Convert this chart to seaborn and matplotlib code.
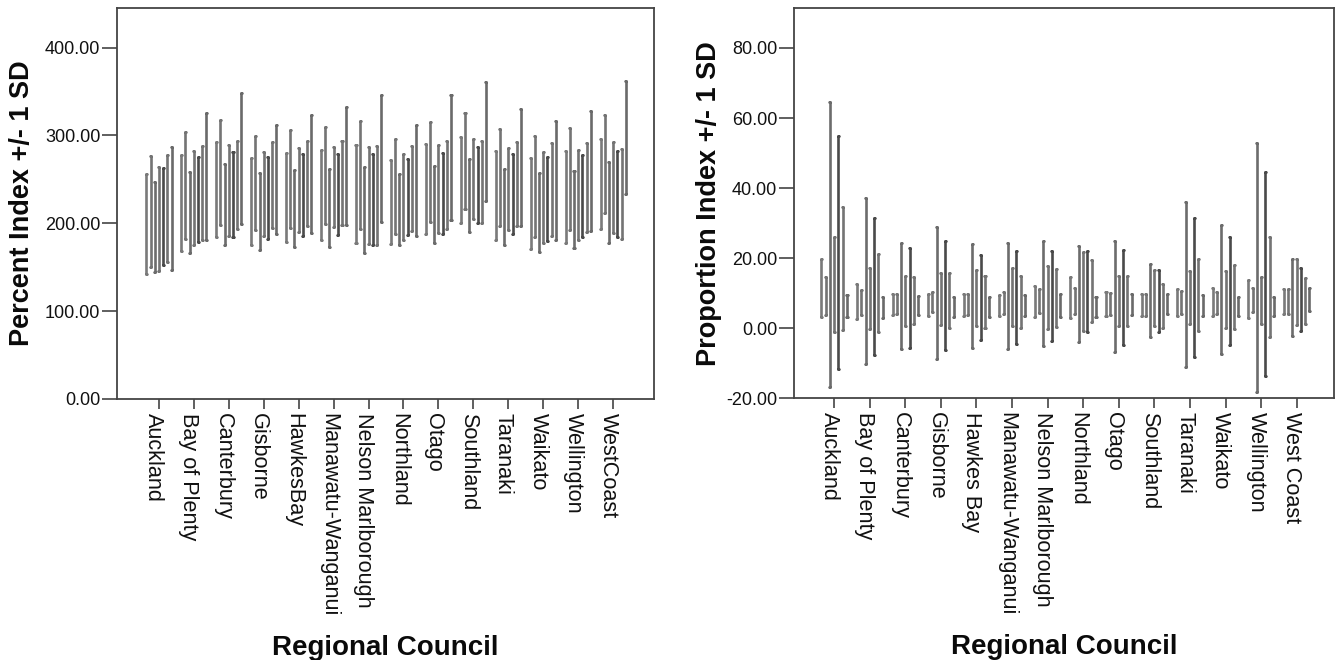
import matplotlib
matplotlib.use("Agg")
import matplotlib.pyplot as plt
import matplotlib.transforms as mtrans
import pandas as pd
import seaborn as sns

# =============================================================================
# data: low / high end of each mean +/- 1 SD bar
# =============================================================================
years = ["1", "2", "3", "4", "5", "6", "7"]

pct_regions = ["Auckland", "Bay of Plenty", "Canterbury", "Gisborne", "HawkesBay",
               "Manawatu-Wanganui", "Nelson Marlborough", "Northland", "Otago",
               "Southland", "Taranaki", "Waikato", "Wellington", "WestCoast"]

pct_lo = [[142.4, 150.3, 145.0, 146.2, 153.0, 155.6, 147.3],
          [168.8, 182.0, 166.2, 175.2, 178.2, 181.3, 180.5],
          [183.9, 198.3, 175.6, 185.8, 183.9, 193.4, 199.1],
          [175.6, 192.6, 169.2, 185.1, 182.4, 194.5, 187.7],
          [178.7, 194.5, 172.6, 189.6, 185.8, 196.4, 188.9],
          [181.3, 199.4, 173.0, 195.2, 187.0, 198.3, 198.3],
          [177.9, 193.8, 166.2, 176.4, 175.6, 175.6, 201.4],
          [176.4, 187.7, 174.8, 181.3, 186.2, 190.7, 185.8],
          [187.7, 201.4, 177.6, 188.9, 187.7, 193.4, 204.0],
          [200.2, 216.1, 190.0, 204.8, 200.2, 200.2, 225.5],
          [181.3, 197.2, 174.8, 191.8, 187.7, 196.4, 197.2],
          [170.7, 184.3, 167.7, 177.6, 179.4, 185.1, 181.3],
          [177.6, 192.6, 171.9, 181.3, 183.9, 189.6, 190.7],
          [193.4, 211.5, 177.6, 188.9, 183.9, 182.4, 233.1]]

pct_hi = [[255.7, 276.9, 246.7, 264.4, 263.3, 277.6, 287.1],
          [278.0, 304.4, 258.4, 282.2, 275.7, 287.8, 326.0],
          [292.7, 317.3, 267.4, 288.9, 280.7, 293.8, 348.2],
          [274.6, 299.5, 256.9, 281.4, 275.7, 292.7, 311.6],
          [279.5, 306.0, 260.6, 285.2, 278.4, 293.8, 323.7],
          [283.3, 309.7, 261.8, 287.1, 278.8, 293.8, 332.0],
          [289.3, 316.1, 264.4, 287.1, 278.8, 287.8, 346.4],
          [271.9, 295.4, 256.1, 278.4, 273.1, 287.8, 311.6],
          [290.1, 315.0, 265.5, 289.3, 279.5, 293.5, 345.6],
          [298.4, 326.0, 272.7, 295.8, 286.3, 293.8, 360.3],
          [282.2, 307.8, 261.8, 285.2, 278.4, 292.4, 330.5],
          [274.6, 299.2, 257.6, 280.7, 275.7, 290.9, 316.1],
          [282.2, 308.2, 259.8, 283.3, 277.6, 290.9, 327.8],
          [295.4, 323.7, 269.3, 292.7, 282.2, 284.1, 361.8]]

prop_regions = ["Auckland", "Bay of Plenty", "Canterbury", "Gisborne", "Hawkes Bay",
                "Manawatu-Wanganui", "Nelson Marlborough", "Northland", "Otago",
                "Southland", "Taranaki", "Waikato", "Wellington", "West Coast"]

prop_lo = [[3.2, 3.7, -16.7, -1.0, -11.5, -0.5, 3.3],
           [2.6, 3.7, -10.3, -0.1, -7.7, -1.0, 3.0],
           [3.7, 4.0, -6.0, 0.7, -5.7, 1.1, 3.7],
           [3.5, 4.5, -8.9, 0.9, -6.3, 0.2, 3.2],
           [3.5, 3.7, -5.6, 0.7, -3.4, 0.2, 3.2],
           [3.5, 4.0, -5.8, 0.7, -4.6, 0.2, 3.5],
           [3.2, 4.3, -5.0, -0.1, -3.6, 0.4, 3.2],
           [2.8, 4.0, -3.9, -0.8, -1.2, 1.8, 3.3],
           [3.5, 3.7, -6.7, 0.7, -4.8, 0.7, 3.7],
           [3.5, 3.5, -2.5, 0.7, -1.2, 0.2, 4.0],
           [3.5, 4.0, -11.0, 1.1, -8.2, -0.8, 3.5],
           [3.5, 4.0, -7.4, 0.2, -4.9, -0.1, 3.5],
           [2.8, 4.5, -18.1, 1.1, -13.6, -2.5, 3.5],
           [4.0, 4.0, -2.2, 0.9, -0.8, 1.1, 4.8]]

prop_hi = [[19.7, 14.5, 64.5, 25.9, 54.8, 34.7, 9.5],
           [12.6, 10.9, 37.3, 17.3, 31.6, 21.3, 9.0],
           [9.9, 9.9, 24.2, 15.0, 22.9, 14.5, 9.2],
           [9.9, 10.2, 29.0, 15.9, 24.9, 15.9, 9.0],
           [9.9, 9.9, 24.0, 16.6, 20.9, 15.0, 9.0],
           [9.6, 10.2, 24.2, 17.3, 22.1, 15.0, 9.5],
           [12.1, 11.1, 24.9, 17.8, 22.1, 16.9, 9.9],
           [14.5, 11.4, 23.5, 21.8, 22.1, 19.4, 8.9],
           [10.2, 10.0, 24.8, 15.0, 22.4, 15.0, 9.7],
           [9.7, 9.7, 18.3, 16.6, 16.6, 12.6, 9.7],
           [11.3, 10.5, 35.9, 16.4, 31.6, 19.7, 9.5],
           [11.6, 10.2, 29.5, 16.4, 25.9, 18.1, 8.8],
           [13.8, 11.6, 53.0, 14.5, 44.7, 26.1, 9.0],
           [11.1, 11.1, 19.7, 19.7, 17.3, 14.2, 11.6]]

bar_colors = ["#7a7a7a", "#747474", "#6c6c6c", "#747474", "#4a4a4a", "#747474", "#6a6a6a"]


def long_table(regions, lo, hi):
    # two rows per bar -> min/max interval gives the bar ends
    rows = []
    for r, lrow, hrow in zip(regions, lo, hi):
        for y, l, h in zip(years, lrow, hrow):
            rows.append((r, y, l))
            rows.append((r, y, h))
    return pd.DataFrame(rows, columns=["region", "year", "value"])


sns.set_style("ticks")
plt.rcParams["font.family"] = ["Liberation Sans", "DejaVu Sans"]

fig = plt.figure(figsize=(13.38, 6.6), dpi=100)
ax1 = fig.add_axes([117 / 1338, 1 - 399 / 660, 537 / 1338, 391 / 660])
ax2 = fig.add_axes([794 / 1338, 1 - 398.3 / 660, 540 / 1338, 390.3 / 660])


def draw(ax, regions, lo, hi, ylim, yticks, xlim, ylabel, ylab_x):
    df = long_table(regions, lo, hi)
    sns.pointplot(data=df, x="region", y="value", hue="year", order=regions,
                  hue_order=years, errorbar=("pi", 100), dodge=0.72,
                  markers="", linestyle="none", palette=bar_colors,
                  capsize=0.03, err_kws={"linewidth": 1.9}, legend=False, ax=ax)
    ax.set_xlim(*xlim)
    ax.set_ylim(*ylim)
    ax.set_yticks(yticks)
    ax.set_yticklabels(["%.2f" % v for v in yticks])
    ax.set_xticks(range(len(regions)))
    ax.set_xticklabels(regions, rotation=-90, ha="center", va="top")
    ax.tick_params(axis="x", direction="out", bottom=True, length=7, width=1.2,
                   color="#444444", pad=3, labelsize=15.6, labelcolor="#111111")
    ax.tick_params(axis="y", direction="out", left=True, length=11, width=1.2,
                   color="#444444", pad=1, labelsize=13, labelcolor="#111111")
    off = mtrans.ScaledTranslation(-5 / 100, 0, fig.dpi_scale_trans)
    for lab in ax.get_xticklabels():
        lab.set_transform(lab.get_transform() + off)
    for sp in ax.spines.values():
        sp.set_visible(True)
        sp.set_color("#444444")
        sp.set_linewidth(1.3)
    ax.set_xlabel("Regional Council", fontsize=20, fontweight="bold",
                  va="center", color="#0a0a0a")
    ax.xaxis.set_label_coords(0.5, -0.638)
    ax.set_ylabel(ylabel, fontsize=19.5, fontweight="bold", va="center", color="#0a0a0a")
    ax.yaxis.set_label_coords(ylab_x, 0.5)


draw(ax1, pct_regions, pct_lo, pct_hi, (0, 445), [0, 100, 200, 300, 400],
     (-1.2, 14.17), "Percent Index +/- 1 SD", -0.1775)
draw(ax2, prop_regions, prop_lo, prop_hi, (-20, 91.4), [-20, 0, 20, 40, 60, 80],
     (-1.13, 14.05), "Proportion Index +/- 1 SD", -0.157)

fig.savefig("out.png", dpi=100)
